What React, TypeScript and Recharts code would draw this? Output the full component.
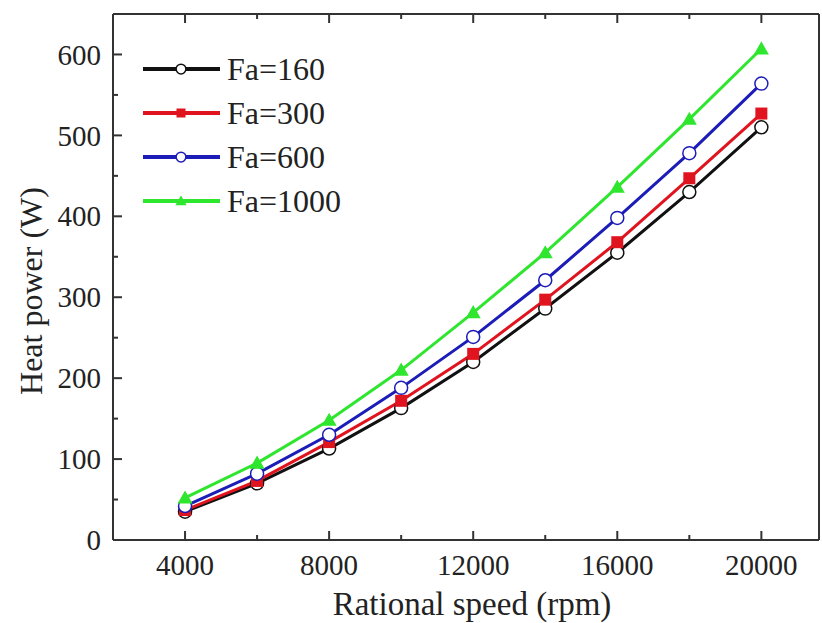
import { LineChart, Line, XAxis, YAxis, Legend } from "recharts";

const speeds = [4000, 6000, 8000, 10000, 12000, 14000, 16000, 18000, 20000];
const fa160 = [35, 70, 113, 163, 220, 286, 355, 430, 510];
const fa300 = [37, 73, 121, 172, 230, 297, 368, 447, 527];
const fa600 = [42, 82, 130, 188, 251, 321, 398, 478, 564];
const fa1000 = [52, 95, 148, 210, 281, 355, 436, 520, 607];

const xTicks = [4000, 6000, 8000, 10000, 12000, 14000, 16000, 18000, 20000];
const yTicks = [0, 50, 100, 150, 200, 250, 300, 350, 400, 450, 500, 550, 600];

const SERIES = [
  { key: "fa160", name: "Fa=160", color: "#111111", marker: "circle" },
  { key: "fa300", name: "Fa=300", color: "#e0141e", marker: "square" },
  { key: "fa600", name: "Fa=600", color: "#1c1cb8", marker: "circle" },
  { key: "fa1000", name: "Fa=1000", color: "#2ee62e", marker: "triangle" },
];

const data = speeds.map((s, i) => ({
  speed: s,
  fa160: fa160[i],
  fa300: fa300[i],
  fa600: fa600[i],
  fa1000: fa1000[i],
}));

const FONT = "Liberation Serif";
const AXIS = "#333";

function Marker({ cx, cy, type, color, size = 1 }: any) {
  if (cx == null || cy == null) return null;
  if (type === "square") {
    const h = 6 * size;
    return <rect x={cx - h} y={cy - h} width={2 * h} height={2 * h} fill={color} />;
  }
  if (type === "triangle") {
    const h = 7.5 * size;
    return (
      <polygon
        points={`${cx},${cy - h} ${cx + h},${cy + h * 0.75} ${cx - h},${cy + h * 0.75}`}
        fill={color}
      />
    );
  }
  return <circle cx={cx} cy={cy} r={6.5 * size} fill="#fff" stroke={color} strokeWidth={1.5} />;
}

// tick helpers: tickSize/tickMargin = 0 so x/y is the axis line itself
const BottomTick = ({ x, y, payload }: any) => {
  const major = payload.value % 4000 === 0;
  return (
    <g>
      <line x1={x} x2={x} y1={y} y2={y - (major ? 9 : 5)} stroke={AXIS} strokeWidth={2} />
      {major && (
        <text x={x} y={y + 35} textAnchor="middle" fontSize={29} style={{ fontFamily: FONT }} fill="#222">
          {payload.value}
        </text>
      )}
    </g>
  );
};

const TopTick = ({ x, y, payload }: any) => {
  const major = payload.value % 4000 === 0;
  return <line x1={x} x2={x} y1={y} y2={y + (major ? 9 : 5)} stroke={AXIS} strokeWidth={2} />;
};

const LeftTick = ({ x, y, payload }: any) => {
  const major = payload.value % 100 === 0;
  return (
    <g>
      <line x1={x} x2={x + (major ? 9 : 5)} y1={y} y2={y} stroke={AXIS} strokeWidth={2} />
      {major && (
        <text x={x - 12} y={y} dy="0.35em" textAnchor="end" fontSize={29} style={{ fontFamily: FONT }} fill="#222">
          {payload.value}
        </text>
      )}
    </g>
  );
};

const RightTick = ({ x, y, payload }: any) => {
  const major = payload.value % 100 === 0;
  return <line x1={x} x2={x - (major ? 9 : 5)} y1={y} y2={y} stroke={AXIS} strokeWidth={2} />;
};

const renderLegend = () => (
  <div style={{ fontFamily: FONT }}>
    {SERIES.map((s) => (
      <div key={s.key} style={{ display: "flex", alignItems: "center", height: 44 }}>
        <svg width={80} height={20}>
          <line x1={2} x2={79} y1={10} y2={10} stroke={s.color} strokeWidth={4} />
          <Marker cx={40} cy={10} type={s.marker} color={s.color} size={0.75} />
        </svg>
        <span style={{ fontFamily: FONT, fontSize: 32, color: "#222", marginLeft: 6, lineHeight: "44px" }}>{s.name}</span>
      </div>
    ))}
  </div>
);

export default function App() {
  return (
    <div style={{ position: "absolute", left: 0, top: 0, background: "#fff", fontFamily: FONT }}>
      <LineChart width={822} height={623} data={data} margin={{ top: 13, right: 2, bottom: 0, left: 0 }}>
        <XAxis
          xAxisId="bottom"
          dataKey="speed"
          type="number"
          domain={[2000, 21600]}
          ticks={xTicks}
          interval={0}
          height={83}
          tickSize={0}
          tickMargin={0}
          tickLine={false}
          tick={<BottomTick />}
          axisLine={{ stroke: AXIS, strokeWidth: 2 }}
          label={(p: any) => {
            const vb = p.viewBox;
            return (
              <text x={vb.x + vb.width / 2 + 6} y={vb.y + 75} textAnchor="middle" fontSize={33} style={{ fontFamily: FONT }} fill="#222">
                Rational speed (rpm)
              </text>
            );
          }}
        />
        <XAxis
          xAxisId="top"
          orientation="top"
          dataKey="speed"
          type="number"
          domain={[2000, 21600]}
          ticks={xTicks}
          interval={0}
          height={1}
          tickSize={0}
          tickMargin={0}
          tickLine={false}
          tick={<TopTick />}
          axisLine={{ stroke: AXIS, strokeWidth: 2 }}
        />
        <YAxis
          yAxisId="left"
          type="number"
          domain={[0, 650]}
          ticks={yTicks}
          interval={0}
          width={113}
          tickSize={0}
          tickMargin={0}
          tickLine={false}
          tick={<LeftTick />}
          axisLine={{ stroke: AXIS, strokeWidth: 2 }}
          label={(p: any) => {
            const vb = p.viewBox;
            const cx = 31;
            const cy = vb.y + vb.height / 2 + 14;
            return (
              <text
                x={cx}
                y={cy}
                transform={`rotate(-90 ${cx} ${cy})`}
                textAnchor="middle"
                dominantBaseline="central"
                fontSize={32}
                style={{ fontFamily: FONT }}
                fill="#222"
              >
                Heat power (W)
              </text>
            );
          }}
        />
        <YAxis
          yAxisId="right"
          orientation="right"
          type="number"
          domain={[0, 650]}
          ticks={yTicks}
          interval={0}
          width={1}
          tickSize={0}
          tickMargin={0}
          tickLine={false}
          tick={<RightTick />}
          axisLine={{ stroke: AXIS, strokeWidth: 2 }}
        />
        <Legend
          layout="vertical"
          align="center"
          verticalAlign="middle"
          content={renderLegend}
          wrapperStyle={{ left: 141, top: 47, width: 240, height: 180 }}
        />
        {SERIES.map((s) => (
          <Line
            key={s.key}
            xAxisId="bottom"
            yAxisId="left"
            dataKey={s.key}
            name={s.name}
            stroke={s.color}
            strokeWidth={3}
            type="linear"
            isAnimationActive={false}
            dot={(p: any) => <Marker key={`${s.key}-${p.index}`} cx={p.cx} cy={p.cy} type={s.marker} color={s.color} />}
            activeDot={false}
          />
        ))}
      </LineChart>
    </div>
  );
}
